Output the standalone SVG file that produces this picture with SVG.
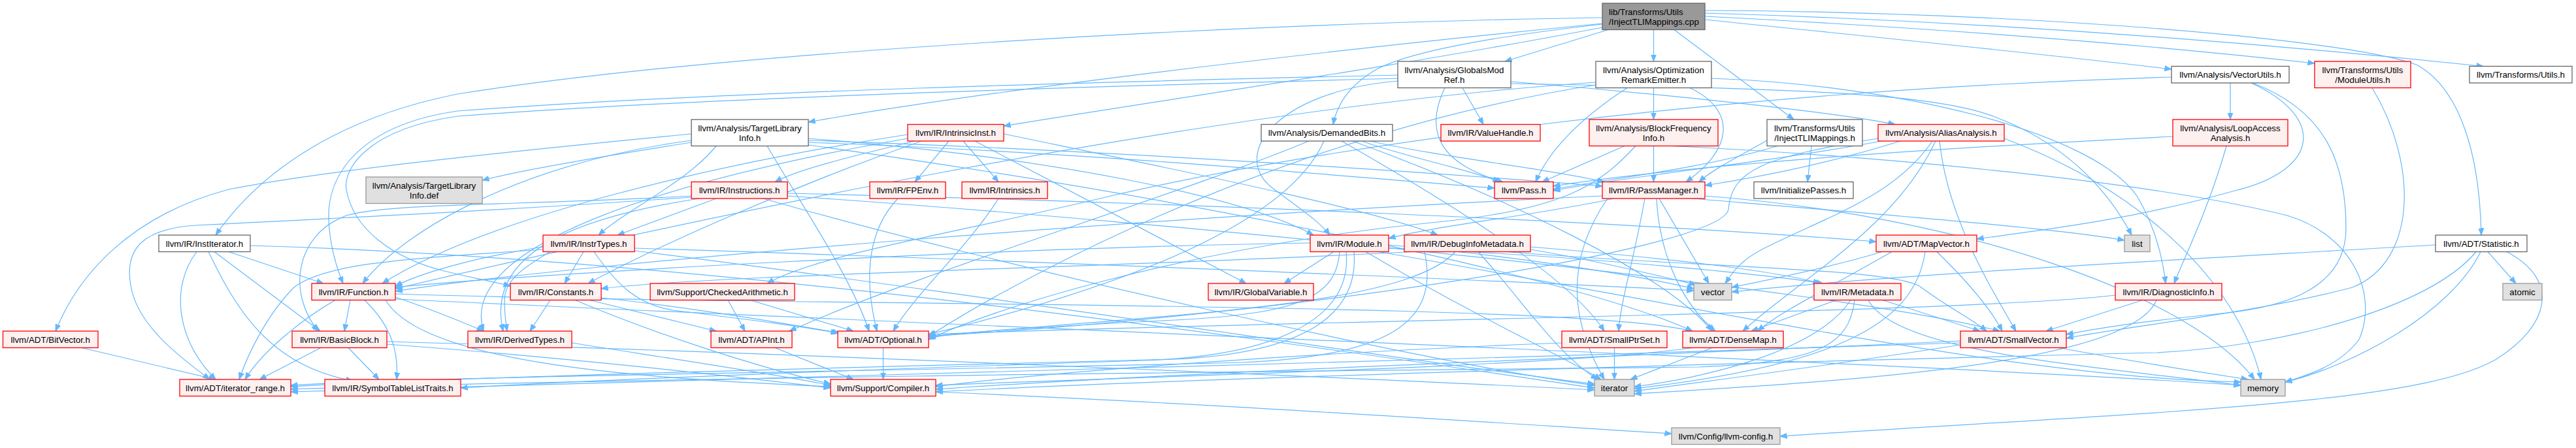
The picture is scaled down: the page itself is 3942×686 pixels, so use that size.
<svg xmlns="http://www.w3.org/2000/svg" width="3942" height="686" viewBox="0 0 3942 686">
<style>
.w{fill:#ffffff;stroke:#666666;stroke-width:1.3}
.p{fill:#fff0f0;stroke:#ff0000;stroke-width:1.3}
.g{fill:#e0e0e0;stroke:#999999;stroke-width:1.3}
.r{fill:#999999;stroke:#666666;stroke-width:1.3}
text{font-family:"Liberation Sans",Arial,Helvetica,sans-serif;font-size:13.33px;fill:#000;text-anchor:middle}
text.l{text-anchor:start}
#connectors path{fill:none;stroke:#63b8ff;stroke-width:1.2;marker-end:url(#a)}
</style>
<defs>
<marker id="a" markerUnits="userSpaceOnUse" markerWidth="11" markerHeight="9" refX="10.5" refY="4.5" orient="auto">
<path d="M0,0.5 L10.5,4.5 L0,8.5 z" fill="#63b8ff" stroke="#63b8ff" stroke-width="1"/>
</marker>
</defs>
<rect width="3942" height="686" fill="#ffffff"/>
<g id="connectors">
<path d="M2461,45.5 L2303,94"/>
<path d="M2530.5,45.5 L2530.5,94"/>
<path d="M2452,37 C2250,60 2140,85 2100,110 C2060,135 2045,165 2040,190.5"/>
<path d="M2452,36 C2000,80 1500,140 1237,187"/>
<path d="M2452,42 C2150,100 1800,150 1536,193"/>
<path d="M2452,27 C1900,35 1100,80 700,144 C520,180 400,260 330,360"/>
<path d="M2562,45.5 L2745,183"/>
<path d="M2609,30 C2900,60 3150,85 3323,106"/>
<path d="M2609,25 C3000,45 3300,70 3542,97"/>
<path d="M2609,20 C3100,35 3500,70 3800,101.5"/>
<path d="M2609,16 C3100,18 3600,60 3700,100 C3770,140 3795,250 3797,360"/>
<path d="M2238,134.5 L2270,190.5"/>
<path d="M2211,134.5 C2180,200 2200,250 2300,278.5"/>
<path d="M2312,125 C2500,140 2800,170 2900,190.5"/>
<path d="M2312,128 C2700,135 2950,140 3050,178 C3150,215 3220,280 3262,360"/>
<path d="M2139,115 C1700,125 1100,140 700,170 C560,190 500,260 503,337 C505,380 515,410 525,434"/>
<path d="M2139,120 C1700,132 1100,148 700,178 C560,198 525,260 530,290 C540,350 600,395 680,415 C720,425 750,430 781,438"/>
<path d="M2139,124 C1950,140 1880,240 1950,290 C1990,320 2020,340 2035,360"/>
<path d="M2530.5,134.5 L2530.5,183"/>
<path d="M2490,134.5 C2420,180 2370,230 2350,278.5"/>
<path d="M2586,134.5 C2660,170 2650,230 2580,278.5"/>
<path d="M2619,120 C2900,130 3200,200 3270,300 C3300,350 3310,400 3314,434"/>
<path d="M2442,126 C1800,170 1000,350 605,442"/>
<path d="M2442,130 C2000,200 1600,400 1421,515"/>
<path d="M2530.5,223.5 L2530.5,278.5"/>
<path d="M2486,223.5 L2360,278.5"/>
<path d="M2503,223.5 C2450,280 2400,320 2200,340 C1800,380 1500,480 1421,520"/>
<path d="M2557,223.5 C2900,240 3300,280 3500,330 C3600,360 3640,450 3610,520 C3580,560 3530,575 3497,585"/>
<path d="M2097,216 C2200,240 2380,260 2455,278.5"/>
<path d="M2084,216 C2150,240 2250,260 2295,278.5"/>
<path d="M2070,216 C2300,300 2550,420 2620,507"/>
<path d="M2053,216 C2200,300 2400,420 2455,507"/>
<path d="M2026,216 C1980,320 1800,420 1421,512"/>
<path d="M2003,216 C1800,300 1400,420 1208,507"/>
<path d="M1058,218 C950,235 800,260 738,276"/>
<path d="M1096,223.5 C1050,280 960,320 916,360"/>
<path d="M1058,215 C800,250 620,350 555,434"/>
<path d="M1058,205 C800,230 500,260 350,290 C200,330 120,420 85,507"/>
<path d="M1237,212 C1600,240 1900,300 2010,360"/>
<path d="M1237,215 C1700,230 2200,265 2452,285"/>
<path d="M1237,218 C1700,235 2050,270 2287,288"/>
<path d="M1174,223.5 C1230,320 1300,420 1330,507"/>
<path d="M1237,222 C1800,300 2400,420 2590,507"/>
<path d="M1400,216 C1300,240 1220,260 1186,278.5"/>
<path d="M1452,216 L1400,278.5"/>
<path d="M1474,216 L1528,278.5"/>
<path d="M1492,216 L1907,434"/>
<path d="M1389,206 C1100,250 750,330 585,434"/>
<path d="M1410,216 C1200,290 1000,380 900,434"/>
<path d="M1389,212 C1000,280 700,380 740,507"/>
<path d="M1536,205 C1800,260 2100,320 2200,360"/>
<path d="M1374,304 C1330,350 1320,420 1342,507"/>
<path d="M1528,304 C1480,380 1400,450 1367,507"/>
<path d="M1096,304 L945,360"/>
<path d="M1058,300 C800,315 600,310 530,330 C450,360 440,450 487,507"/>
<path d="M1070,304 C900,330 740,380 770,507"/>
<path d="M1058,302 C800,320 600,330 300,345 C220,350 190,380 200,437 C210,500 280,550 321,581"/>
<path d="M1205,296 C1800,310 2500,340 2871,370"/>
<path d="M1205,300 C1800,340 2800,440 3060,507"/>
<path d="M1168,304 C1500,400 2200,560 2440,590"/>
<path d="M893,385.5 L864,434"/>
<path d="M842,385.5 C800,410 772,430 772,460 C772,480 774,495 776,507"/>
<path d="M909,385.5 C940,430 970,465 1030,475 C1150,490 1230,500 1282,510"/>
<path d="M831,378 C720,395 640,420 605,438"/>
<path d="M831,382 C650,395 500,400 450,440 C410,480 380,540 366,581"/>
<path d="M971,380 C1600,400 2300,430 2592,445"/>
<path d="M971,384 C1500,450 2200,560 2440,588"/>
<path d="M842,459.5 L811,507"/>
<path d="M902,459.5 L1096,507"/>
<path d="M920,456 C1050,470 1200,495 1285,510"/>
<path d="M880,459.5 C1000,510 1150,560 1271,588"/>
<path d="M1114,459.5 L1140,507"/>
<path d="M1148,459.5 L1306,507"/>
<path d="M875,525 C1000,545 1200,575 1271,590"/>
<path d="M1186,532.5 L1306,581"/>
<path d="M1351.5,532.5 L1351.5,581"/>
<path d="M1432,600 C1900,620 2400,655 2558,664"/>
<path d="M125,532.5 L330,581"/>
<path d="M328,385.5 L490,507"/>
<path d="M350,385.5 L495,434"/>
<path d="M319,385.5 C360,470 410,560 540,583"/>
<path d="M301,385.5 C260,440 270,520 330,581"/>
<path d="M383,376 C1200,400 2200,560 2440,594"/>
<path d="M536,459.5 L527,507"/>
<path d="M513,459.5 C460,490 400,540 375,581"/>
<path d="M558,459.5 C600,500 610,540 607,581"/>
<path d="M605,455 C650,470 700,490 740,507"/>
<path d="M605,450 C1200,470 2400,460 2590,507"/>
<path d="M590,459.5 C650,560 1000,580 1271,592"/>
<path d="M605,458 C1500,500 3000,560 3429,590"/>
<path d="M491,532.5 L397,581"/>
<path d="M533,532.5 L580,581"/>
<path d="M592,523 C1200,540 2100,580 2440,597"/>
<path d="M592,527 C900,550 1150,580 1271,594"/>
<path d="M2041,385.5 L1965,434"/>
<path d="M2050,385.5 C2045,450 2000,480 1800,490 C1600,500 1450,510 1421,518"/>
<path d="M2072,385.5 C2080,480 2000,540 1800,550 C1200,565 700,578 445,592"/>
<path d="M2060,385.5 C2070,490 1950,545 1750,552 C1200,570 850,585 705,594"/>
<path d="M2005,372 C1500,380 800,420 605,440"/>
<path d="M2125,380 C2400,390 2700,420 2790,434"/>
<path d="M2125,375 C2300,390 2500,420 2592,442"/>
<path d="M2090,385.5 C2250,480 2400,550 2450,581"/>
<path d="M2110,385.5 C2600,470 3100,580 3429,585"/>
<path d="M2227,385.5 C2150,470 1800,480 1421,515"/>
<path d="M2262,385.5 C2330,460 2380,540 2445,581"/>
<path d="M2342,378 C2550,395 2720,415 2785,434"/>
<path d="M2306,385.5 C2600,410 2900,410 2940,440 C2980,470 3020,490 3040,507"/>
<path d="M2342,382 C2450,400 2550,425 2595,436"/>
<path d="M2160,385.5 C1700,410 1100,420 920,442"/>
<path d="M2180,385.5 C2200,480 2150,545 1900,555 C1300,570 700,575 445,590"/>
<path d="M2810,459.5 L2680,507"/>
<path d="M2881,459.5 L3030,507"/>
<path d="M2832,459.5 C2780,540 2600,580 2501,592"/>
<path d="M2838,459.5 C2830,530 2780,555 2600,562 C1800,570 900,580 445,596"/>
<path d="M2859,459.5 C2900,540 3200,560 3429,590"/>
<path d="M2895,385.5 C2800,440 2720,480 2690,507"/>
<path d="M2964,385.5 C3020,440 3050,480 3064,507"/>
<path d="M2880,385.5 C2800,410 2700,430 2650,440"/>
<path d="M2946,385.5 C2930,500 2800,560 2501,595"/>
<path d="M2620,532.5 L2495,581"/>
<path d="M2590,532.5 C2400,560 1800,575 1432,590"/>
<path d="M2470.5,532.5 L2470.5,581"/>
<path d="M2390,525 C2000,540 1600,570 1432,592"/>
<path d="M3000,525 C2000,560 800,585 445,600"/>
<path d="M3000,522 C2400,550 1800,570 1432,596"/>
<path d="M3000,528 C2800,560 2600,585 2501,599"/>
<path d="M3150,532.5 C3300,560 3400,575 3440,581"/>
<path d="M3279,459.5 L3131,507"/>
<path d="M3237,452 C3000,480 2000,490 1421,512"/>
<path d="M3300,459.5 C3260,560 2800,585 2501,603"/>
<path d="M3807,385.5 L3850,434"/>
<path d="M3796,385.5 C3750,480 3600,560 3497,585"/>
<path d="M3789,385.5 C3720,470 3500,530 3300,540 C2500,560 1800,580 1432,600"/>
<path d="M3727,375 C3300,400 2900,420 2650,447"/>
<path d="M3836,385.5 C3920,430 3900,500 3820,550 C3700,620 3300,630 2724,668"/>
<path d="M3413,127 L3413,183"/>
<path d="M3445,127 C3560,180 3550,260 3420,292 C3250,340 3100,355 3025,366"/>
<path d="M3447,127 C3560,170 3590,250 3590,350 C3590,440 3500,470 3400,480 C3250,495 3200,505 3162,512"/>
<path d="M3323,118 C2600,140 2000,230 1700,300 C1450,360 1250,390 1174,434"/>
<path d="M3407,223.5 C3380,320 3340,400 3327,434"/>
<path d="M3325,209 C3000,225 2600,250 2377,285"/>
<path d="M3630,134.5 C3700,250 3700,400 3600,440 C3450,480 3250,500 3162,518"/>
<path d="M2772,223.5 L2766,278.5"/>
<path d="M2704,215 C2660,240 2620,260 2600,278.5"/>
<path d="M2720,223.5 C2600,260 2450,275 2377,290"/>
<path d="M2908,216 C2800,250 2700,270 2609,284"/>
<path d="M2890,214 C2700,250 2500,268 2377,292"/>
<path d="M2957,216 C2900,300 2800,330 2700,380 C2660,400 2650,420 2640,434"/>
<path d="M2962,216 C2900,350 2750,430 2667,507"/>
<path d="M2968,216 C2980,330 3040,430 3085,507"/>
<path d="M2874,212 C2700,240 2650,260 2645,320 C2640,380 2000,480 1421,515"/>
<path d="M3067,212 C3300,300 3430,450 3460,581"/>
<path d="M2517,304 C2500,400 2480,460 2477,507"/>
<path d="M2535,304 C2540,400 2580,470 2625,507"/>
<path d="M2539,304 L2615,434"/>
<path d="M2470,304 C2350,330 2200,345 2125,365"/>
<path d="M2452,300 C1800,330 900,400 605,446"/>
<path d="M2590,304 C2900,330 3150,350 3251,368"/>
<path d="M2609,300 C3000,330 3350,450 3450,581"/>
<path d="M2460,304 C2380,420 2420,520 2455,581"/>
</g>
<g id="n-root"><rect class="r" x="2452" y="5" width="157" height="40.5"/><text class="l" x="2462" y="23">lib/Transforms/Utils</text><text class="l" x="2462" y="38">/InjectTLIMappings.cpp</text></g>
<g id="n-gmr"><rect class="w" x="2139" y="94" width="173" height="40.5"/><text x="2225.5" y="112">llvm/Analysis/GlobalsMod</text><text x="2225.5" y="127">Ref.h</text></g>
<g id="n-ore"><rect class="w" x="2442" y="94" width="177" height="40.5"/><text x="2530.5" y="112">llvm/Analysis/Optimization</text><text x="2530.5" y="127">RemarkEmitter.h</text></g>
<g id="n-vu"><rect class="w" x="3323" y="101.5" width="180" height="25.5"/><text x="3413" y="119">llvm/Analysis/VectorUtils.h</text></g>
<g id="n-mu"><rect class="p" x="3542" y="94" width="147" height="40.5"/><text x="3615.5" y="112">llvm/Transforms/Utils</text><text x="3615.5" y="127">/ModuleUtils.h</text></g>
<g id="n-tu"><rect class="w" x="3779" y="101.5" width="157" height="25.5"/><text x="3857.5" y="119">llvm/Transforms/Utils.h</text></g>
<g id="n-tli"><rect class="w" x="1058" y="183" width="179" height="40.5"/><text x="1147.5" y="201">llvm/Analysis/TargetLibrary</text><text x="1147.5" y="216">Info.h</text></g>
<g id="n-ii"><rect class="p" x="1389" y="190.5" width="147" height="25.5"/><text x="1462.5" y="208">llvm/IR/IntrinsicInst.h</text></g>
<g id="n-db"><rect class="w" x="1930" y="190.5" width="201" height="25.5"/><text x="2030.5" y="208">llvm/Analysis/DemandedBits.h</text></g>
<g id="n-vh"><rect class="p" x="2205" y="190.5" width="152" height="25.5"/><text x="2281" y="208">llvm/IR/ValueHandle.h</text></g>
<g id="n-bfi"><rect class="p" x="2432" y="183" width="197" height="40.5"/><text x="2530.5" y="201">llvm/Analysis/BlockFrequency</text><text x="2530.5" y="216">Info.h</text></g>
<g id="n-itlh"><rect class="w" x="2704" y="183" width="146" height="40.5"/><text x="2777" y="201">llvm/Transforms/Utils</text><text x="2777" y="216">/InjectTLIMappings.h</text></g>
<g id="n-aa"><rect class="p" x="2874" y="190.5" width="193" height="25.5"/><text x="2970.5" y="208">llvm/Analysis/AliasAnalysis.h</text></g>
<g id="n-laa"><rect class="p" x="3325" y="183" width="176" height="40.5"/><text x="3413" y="201">llvm/Analysis/LoopAccess</text><text x="3413" y="216">Analysis.h</text></g>
<g id="n-def"><rect class="g" x="560" y="271" width="178" height="40.5"/><text x="649" y="289">llvm/Analysis/TargetLibrary</text><text x="649" y="304">Info.def</text></g>
<g id="n-ins"><rect class="p" x="1058" y="278.5" width="147" height="25.5"/><text x="1131.5" y="296">llvm/IR/Instructions.h</text></g>
<g id="n-fpe"><rect class="p" x="1331" y="278.5" width="116" height="25.5"/><text x="1389" y="296">llvm/IR/FPEnv.h</text></g>
<g id="n-int"><rect class="p" x="1472" y="278.5" width="131" height="25.5"/><text x="1537.5" y="296">llvm/IR/Intrinsics.h</text></g>
<g id="n-pass"><rect class="p" x="2287" y="278.5" width="90" height="25.5"/><text x="2332" y="296">llvm/Pass.h</text></g>
<g id="n-pm"><rect class="p" x="2452" y="278.5" width="157" height="25.5"/><text x="2530.5" y="296">llvm/IR/PassManager.h</text></g>
<g id="n-ip"><rect class="w" x="2684" y="278.5" width="152" height="25.5"/><text x="2760" y="296">llvm/InitializePasses.h</text></g>
<g id="n-iit"><rect class="w" x="243" y="360" width="140" height="25.5"/><text x="313" y="377.5">llvm/IR/InstIterator.h</text></g>
<g id="n-it"><rect class="p" x="831" y="360" width="140" height="25.5"/><text x="901" y="377.5">llvm/IR/InstrTypes.h</text></g>
<g id="n-mod"><rect class="p" x="2005" y="360" width="120" height="25.5"/><text x="2065" y="377.5">llvm/IR/Module.h</text></g>
<g id="n-dim"><rect class="p" x="2149" y="360" width="193" height="25.5"/><text x="2245.5" y="377.5">llvm/IR/DebugInfoMetadata.h</text></g>
<g id="n-mv"><rect class="p" x="2871" y="360" width="154" height="25.5"/><text x="2948" y="377.5">llvm/ADT/MapVector.h</text></g>
<g id="n-list"><rect class="g" x="3251" y="360" width="39" height="25.5"/><text x="3270.5" y="377.5">list</text></g>
<g id="n-stat"><rect class="w" x="3727" y="360" width="140" height="25.5"/><text x="3797" y="377.5">llvm/ADT/Statistic.h</text></g>
<g id="n-fn"><rect class="p" x="477" y="434" width="128" height="25.5"/><text x="541" y="451.5">llvm/IR/Function.h</text></g>
<g id="n-con"><rect class="p" x="781" y="434" width="139" height="25.5"/><text x="850.5" y="451.5">llvm/IR/Constants.h</text></g>
<g id="n-ca"><rect class="p" x="995" y="434" width="221" height="25.5"/><text x="1105.5" y="451.5">llvm/Support/CheckedArithmetic.h</text></g>
<g id="n-gv"><rect class="p" x="1849" y="434" width="161" height="25.5"/><text x="1929.5" y="451.5">llvm/IR/GlobalVariable.h</text></g>
<g id="n-vec"><rect class="g" x="2592" y="434" width="58" height="25.5"/><text x="2621" y="451.5">vector</text></g>
<g id="n-md"><rect class="p" x="2776" y="434" width="133" height="25.5"/><text x="2842.5" y="451.5">llvm/IR/Metadata.h</text></g>
<g id="n-di"><rect class="p" x="3237" y="434" width="163" height="25.5"/><text x="3318.5" y="451.5">llvm/IR/DiagnosticInfo.h</text></g>
<g id="n-atom"><rect class="g" x="3830" y="434" width="60" height="25.5"/><text x="3860" y="451.5">atomic</text></g>
<g id="n-bv"><rect class="p" x="4.5" y="507" width="145.5" height="25.5"/><text x="77.25" y="524.5">llvm/ADT/BitVector.h</text></g>
<g id="n-bb"><rect class="p" x="447" y="507" width="145" height="25.5"/><text x="519.5" y="524.5">llvm/IR/BasicBlock.h</text></g>
<g id="n-dt"><rect class="p" x="716" y="507" width="159" height="25.5"/><text x="795.5" y="524.5">llvm/IR/DerivedTypes.h</text></g>
<g id="n-api"><rect class="p" x="1088" y="507" width="124" height="25.5"/><text x="1150" y="524.5">llvm/ADT/APInt.h</text></g>
<g id="n-opt"><rect class="p" x="1282" y="507" width="139" height="25.5"/><text x="1351.5" y="524.5">llvm/ADT/Optional.h</text></g>
<g id="n-sps"><rect class="p" x="2390" y="507" width="161" height="25.5"/><text x="2470.5" y="524.5">llvm/ADT/SmallPtrSet.h</text></g>
<g id="n-dm"><rect class="p" x="2575" y="507" width="154" height="25.5"/><text x="2652" y="524.5">llvm/ADT/DenseMap.h</text></g>
<g id="n-sv"><rect class="p" x="3000" y="507" width="162" height="25.5"/><text x="3081" y="524.5">llvm/ADT/SmallVector.h</text></g>
<g id="n-ir"><rect class="p" x="275" y="581" width="170" height="25.5"/><text x="360" y="598.5">llvm/ADT/iterator_range.h</text></g>
<g id="n-stlt"><rect class="p" x="497" y="581" width="208" height="25.5"/><text x="601" y="598.5">llvm/IR/SymbolTableListTraits.h</text></g>
<g id="n-cmp"><rect class="p" x="1271" y="581" width="161" height="25.5"/><text x="1351.5" y="598.5">llvm/Support/Compiler.h</text></g>
<g id="n-iter"><rect class="g" x="2440" y="581" width="61" height="25.5"/><text x="2470.5" y="598.5">iterator</text></g>
<g id="n-mem"><rect class="g" x="3429" y="581" width="68" height="25.5"/><text x="3463" y="598.5">memory</text></g>
<g id="n-cfg"><rect class="g" x="2558" y="655" width="166" height="25.5"/><text x="2641" y="672.5">llvm/Config/llvm-config.h</text></g>
</svg>
